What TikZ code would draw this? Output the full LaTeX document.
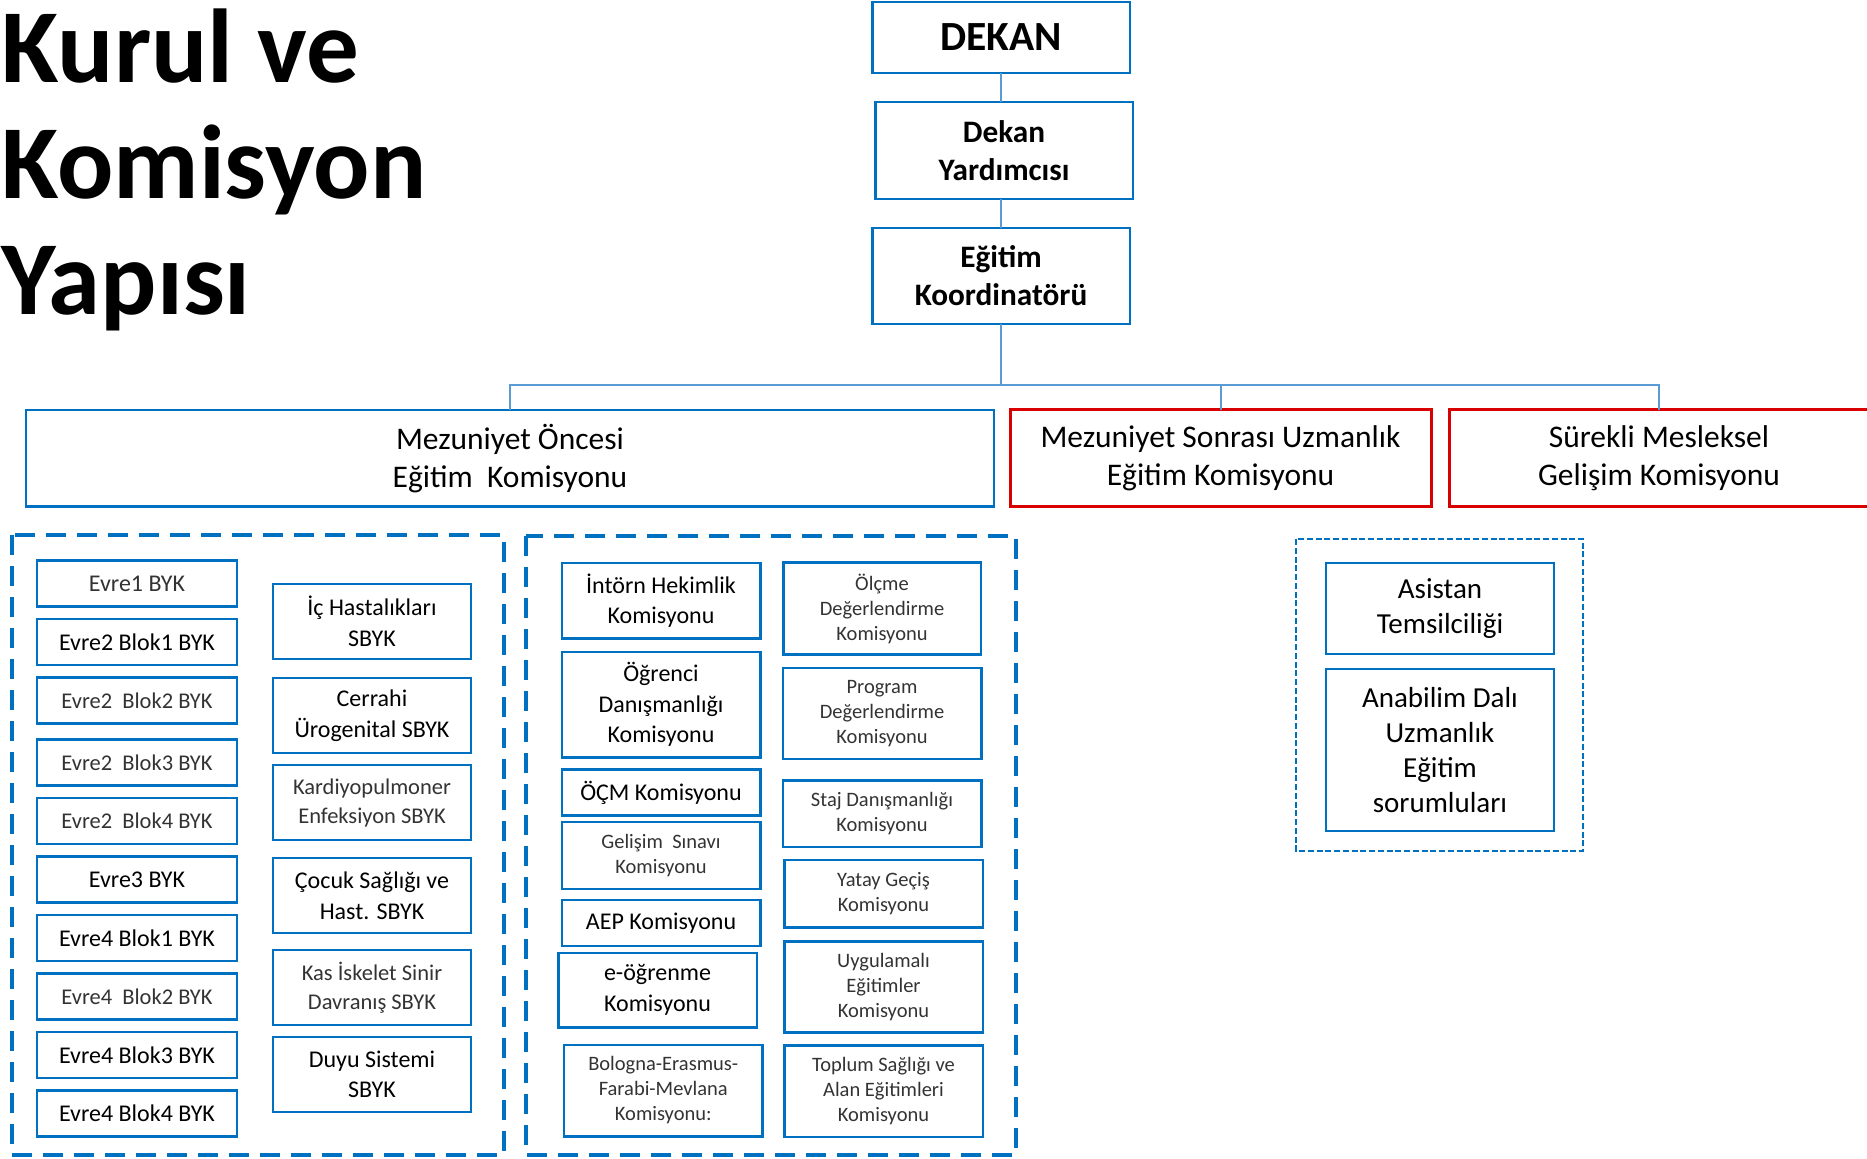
\documentclass[tikz,border=0pt]{standalone}
\usepackage{fontspec}
\setmainfont{Carlito}
\usepackage{xcolor}
\usetikzlibrary{positioning}
\definecolor{kutumavi}{HTML}{0070C0}
\definecolor{hatmavi}{HTML}{5B9BD5}
\definecolor{kutukirmizi}{HTML}{D90000}

\begin{document}
\begin{tikzpicture}[x=0.4pt, y=-0.4pt,
  kutu/.style={draw=kutumavi, line width=1pt, inner sep=0pt, outer sep=0pt, align=center, text=black},
  kirmizikutu/.style={kutu, draw=kutukirmizi, line width=1.2pt},
  ust/.style={kutu, minimum width=103pt, font=\fontsize{12.5}{15.2}\selectfont\bfseries},
  genis/.style={font=\fontsize{12.6}{15.2}\selectfont, minimum height=38.7pt},
  evre/.style={kutu, minimum width=80pt, minimum height=18.4pt, font=\fontsize{9.6}{12.2}\selectfont},
  sbyk/.style={kutu, minimum width=79.2pt, minimum height=30pt, font=\fontsize{9.6}{12.2}\selectfont},
  komisyon/.style={kutu, minimum width=79.4pt, font=\fontsize{9.6}{12.2}\selectfont},
  ince/.style={font=\fontsize{8.2}{10}\selectfont, text=black!80},
  orta/.style={font=\fontsize{9}{11.6}\selectfont, text=black!80},
  hat/.style={draw=hatmavi, line width=0.8pt},
  cerceve/.style={draw=kutumavi, line width=1.6pt, dash pattern=on 8pt off 4.4pt},
  ince cerceve/.style={draw=kutumavi, line width=0.8pt, dash pattern=on 2.4pt off 1.1pt}]
  \useasboundingbox (0,0) rectangle (1867,1159);

  \node[anchor=north west, inner sep=0pt, align=left, font=\fontsize{42}{46.4}\selectfont\bfseries] (baslik) at (1,8) {Kurul ve\\Komisyon\\Yapısı};

  \node[ust, minimum height=28.3pt, font=\fontsize{16.6}{20}\selectfont\bfseries] (dekan) at (1001,37.4) {DEKAN};
  \node[ust, minimum height=38.9pt, below=11.6pt of dekan, xshift=1.2pt] (yardimci) {Dekan\\Yardımcısı};
  \node[ust, minimum height=38.5pt, below=11.5pt of yardimci, xshift=-1.2pt] (koord) {Eğitim\\Koordinatörü};

  \node[kutu, genis, minimum width=387.2pt] (mezonce) at (510,458.3) {Mezuniyet Öncesi\\Eğitim\ \ Komisyonu};
  \node[kirmizikutu, genis, minimum width=168.4pt] (mezsonra) at (1220.5,458.3) {Mezuniyet Sonrası Uzmanlık\\Eğitim Komisyonu};
  \node[kirmizikutu, genis, minimum width=168pt] (smg) at (1659,458.3) {Sürekli Mesleksel\\Gelişim Komisyonu};

  \coordinate (bus) at (1001,385);
  \draw[hat] (dekan.south) -- (dekan.south |- yardimci.north);
  \draw[hat] (koord.north) -- (koord.north |- yardimci.south);
  \draw[hat] (koord) -- (bus);
  \draw[hat] (mezonce) |- (bus) -| (smg);
  \draw[hat] (mezsonra) -- (mezsonra |- bus);

  \draw[cerceve] (12,535) rectangle (504,1155);
  \draw[cerceve] (526,536) rectangle (1016,1155);
  \draw[ince cerceve] (1296,539) rectangle (1583,851);

  \node[evre, text=black!80] (e1) at (137,583.7) {Evre1 BYK};
  \node[evre, below=5pt of e1] (e2b1) {Evre2 Blok1 BYK};
  \node[evre, orta, below=5pt of e2b1] (e2b2) {Evre2\ \ Blok2 BYK};
  \node[evre, orta, below=6.4pt of e2b2] (e2b3) {Evre2\ \ Blok3 BYK};
  \node[evre, orta, below=5pt of e2b3] (e2b4) {Evre2\ \ Blok4 BYK};
  \node[evre, below=5pt of e2b4] (e3) {Evre3 BYK};
  \node[evre, below=5pt of e3] (e4b1) {Evre4 Blok1 BYK};
  \node[evre, orta, below=5pt of e4b1] (e4b2) {Evre4\ \ Blok2 BYK};
  \node[evre, below=5pt of e4b2] (e4b3) {Evre4 Blok3 BYK};
  \node[evre, below=5pt of e4b3] (e4b4) {Evre4 Blok4 BYK};

  \node[sbyk] (ich) at (372,621.5) {İç Hastalıkları\\SBYK};
  \node[sbyk, below=7.6pt of ich] (cerrahi) {Cerrahi\\Ürogenital SBYK};
  \node[sbyk, orta, below=4.8pt of cerrahi] (kardiyo) {Kardiyopulmoner\\Enfeksiyon SBYK};
  \node[sbyk, below=7.2pt of kardiyo] (cocuk) {Çocuk Sağlığı ve\\Hast. SBYK};
  \node[sbyk, orta, below=6.8pt of cocuk] (kas) {Kas İskelet Sinir\\Davranış SBYK};
  \node[sbyk, below=4.8pt of kas] (duyu) {Duyu Sistemi\\SBYK};

  \node[komisyon, minimum height=30.2pt] (intorn) at (661,600.5) {İntörn Hekimlik\\Komisyonu};
  \node[komisyon, minimum height=42.2pt, below=5.4pt of intorn] (ogrenci) {Öğrenci\\Danışmanlığı\\Komisyonu};
  \node[komisyon, minimum height=18.4pt, below=4.9pt of ogrenci] (ocm) {ÖÇM Komisyonu};
  \node[komisyon, ince, minimum height=26.7pt, below=2.6pt of ocm] (gelisim) {Gelişim\ \ Sınavı\\Komisyonu};
  \node[komisyon, minimum height=18.3pt, below=4.5pt of gelisim] (aep) {AEP Komisyonu};
  \node[komisyon, minimum height=29.8pt, below=2.8pt of aep, xshift=-1.4pt] (eogrenme) {e-öğrenme\\Komisyonu};
  \node[komisyon, ince, minimum height=36.6pt, below=7pt of eogrenme, xshift=2.3pt] (bologna) {Bologna-Erasmus-\\Farabi-Mevlana\\Komisyonu:};

  \node[komisyon, ince, minimum width=79pt, minimum height=36.7pt] (olcme) at (882,608.6) {Ölçme\\Değerlendirme\\Komisyonu};
  \node[komisyon, ince, minimum height=36.5pt, below=5.4pt of olcme] (program) {Program\\Değerlendirme\\Komisyonu};
  \node[komisyon, ince, minimum height=26.6pt, below=8.6pt of program] (staj) {Staj Danışmanlığı\\Komisyonu};
  \node[komisyon, ince, minimum height=27pt, below=5.1pt of staj, xshift=0.6pt] (yatay) {Yatay Geçiş\\Komisyonu};
  \node[komisyon, ince, minimum height=36.3pt, below=5.7pt of yatay] (uygulamali) {Uygulamalı\\Eğitimler\\Komisyonu};
  \node[komisyon, ince, minimum height=36.7pt, below=5.2pt of uygulamali] (toplum) {Toplum Sağlığı ve\\Alan Eğitimleri\\Komisyonu};

  \node[kutu, minimum width=91.2pt, minimum height=36.4pt, font=\fontsize{11.6}{14}\selectfont] (asistan) at (1440,608.5) {Asistan\\Temsilciliği};
  \node[kutu, minimum width=91.2pt, minimum height=64.8pt, font=\fontsize{11.6}{14}\selectfont, below=6pt of asistan] (anabilim) {Anabilim Dalı\\Uzmanlık\\Eğitim\\sorumluları};
\end{tikzpicture}
\end{document}
